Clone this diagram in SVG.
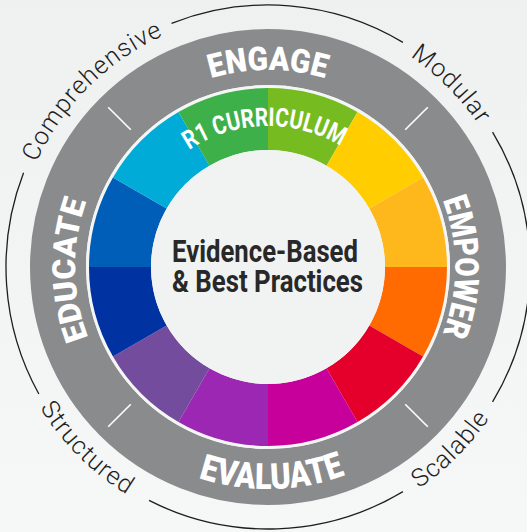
<svg xmlns="http://www.w3.org/2000/svg" width="527" height="532" viewBox="0 0 527 532">
  <defs>
    <linearGradient id="bg" x1="0" y1="0" x2="0" y2="1">
      <stop offset="0" stop-color="#eff0f0"/>
      <stop offset="1" stop-color="#f6f7f7"/>
    </linearGradient>
    <path id="pEngage" d="M 71 267 A 197 197 0 0 1 465 267"/>
    <path id="pEmpower" d="M 268 80 A 187 187 0 0 1 268 454"/>
    <path id="pEvaluate" d="M 46 267 A 222 222 0 0 0 490 267"/>
    <path id="pEducate" d="M 268 460 A 193 193 0 0 1 268 74"/>
    <path id="pR1" d="M 127 267 A 141 141 0 0 1 409 267"/>
    <path id="pTopOuter" d="M 14 267 A 254 254 0 0 1 522 267"/>
    <path id="pBotOuter" d="M 0 267 A 268 268 0 0 0 536 267"/>
  </defs>
  <style>
    .band { font-family: Roboto, "Liberation Sans", sans-serif; font-weight: 900; fill: #ffffff; }
    .outer { font-family: Roboto, "Liberation Sans", sans-serif; font-weight: 300; font-size: 25px; fill: #1e1e1e; letter-spacing: 1px; }
    .center { font-family: Roboto, "Liberation Sans", sans-serif; font-weight: 700; font-size: 31px; fill: #282828; text-anchor: middle; }
    .arc { fill: none; stroke: #1e1e1e; stroke-width: 1.3; }
    .tick { stroke: #ffffff; stroke-width: 1.6; }
  </style>

  <rect id="background" x="0" y="0" width="527" height="532" fill="url(#bg)"/>

  <g id="outer-arcs">
    <path class="arc" d="M 402.94 42.42 A 262 262 0 0 0 171.55 23.40"/>
    <path class="arc" d="M 23.57 172.68 A 262 262 0 0 0 38.85 394.02"/>
    <path class="arc" d="M 149.05 500.44 A 262 262 0 0 0 402.94 491.58"/>
    <path class="arc" d="M 492.58 401.94 A 262 262 0 0 0 492.58 132.06"/>
  </g>

  <g id="outer-labels">
    <text class="outer" text-anchor="middle"><textPath href="#pTopOuter" startOffset="199.5">Comprehensive</textPath></text>
    <text class="outer" text-anchor="middle"><textPath href="#pTopOuter" startOffset="598.5">Modular</textPath></text>
    <text class="outer" text-anchor="middle"><textPath href="#pBotOuter" startOffset="210.5">Structured</textPath></text>
    <text class="outer" text-anchor="middle"><textPath href="#pBotOuter" startOffset="631.5">Scalable</textPath></text>
  </g>

  <g id="gray-band">
    <circle cx="268" cy="267" r="210" fill="none" stroke="#8a8b8d" stroke-width="56"/>
    <circle cx="268" cy="267" r="182" fill="#f4f5f5"/>
    <line class="tick" x1="405.2" y1="129.8" x2="427.8" y2="107.2"/>
    <line class="tick" x1="130.8" y1="129.8" x2="108.2" y2="107.2"/>
    <line class="tick" x1="130.8" y1="404.2" x2="108.2" y2="426.8"/>
    <line class="tick" x1="405.2" y1="404.2" x2="427.8" y2="426.8"/>
  </g>

  <g id="band-labels">
    <text id="engage" class="band" font-size="33" text-anchor="middle"><textPath href="#pEngage" startOffset="50%" textLength="116" lengthAdjust="spacingAndGlyphs">ENGAGE</textPath></text>
    <text id="empower" class="band" font-size="34" text-anchor="middle"><textPath href="#pEmpower" startOffset="50%" textLength="137" lengthAdjust="spacingAndGlyphs">EMPOWER</textPath></text>
    <text id="evaluate" class="band" font-size="36" text-anchor="middle"><textPath href="#pEvaluate" startOffset="352.7" textLength="150" lengthAdjust="spacingAndGlyphs">EVALUATE</textPath></text>
    <text id="educate" class="band" font-size="32" text-anchor="middle"><textPath href="#pEducate" startOffset="300" textLength="139" lengthAdjust="spacingAndGlyphs">EDUCATE</textPath></text>
  </g>

  <g id="color-ring">
    <path fill="#76bc21" d="M 357.5 111.981 A 179 179 0 0 0 268 88 L 268 150 A 117 117 0 0 1 326.5 165.675 Z"/>
    <path fill="#ffcd00" d="M 423.019 177.5 A 179 179 0 0 0 357.5 111.981 L 326.5 165.675 A 117 117 0 0 1 369.325 208.5 Z"/>
    <path fill="#ffb81c" d="M 447 267 A 179 179 0 0 0 423.019 177.5 L 369.325 208.5 A 117 117 0 0 1 385 267 Z"/>
    <path fill="#ff6b00" d="M 423.019 356.5 A 179 179 0 0 0 447 267 L 385 267 A 117 117 0 0 1 369.325 325.5 Z"/>
    <path fill="#e4002b" d="M 357.5 422.019 A 179 179 0 0 0 423.019 356.5 L 369.325 325.5 A 117 117 0 0 1 326.5 368.325 Z"/>
    <path fill="#c8009b" d="M 268 446 A 179 179 0 0 0 357.5 422.019 L 326.5 368.325 A 117 117 0 0 1 268 384 Z"/>
    <path fill="#9b27b3" d="M 178.5 422.019 A 179 179 0 0 0 268 446 L 268 384 A 117 117 0 0 1 209.5 368.325 Z"/>
    <path fill="#744c9e" d="M 112.981 356.5 A 179 179 0 0 0 178.5 422.019 L 209.5 368.325 A 117 117 0 0 1 166.675 325.5 Z"/>
    <path fill="#0033a1" d="M 89 267 A 179 179 0 0 0 112.981 356.5 L 166.675 325.5 A 117 117 0 0 1 151 267 Z"/>
    <path fill="#005eb8" d="M 112.981 177.5 A 179 179 0 0 0 89 267 L 151 267 A 117 117 0 0 1 166.675 208.5 Z"/>
    <path fill="#00acd7" d="M 178.5 111.981 A 179 179 0 0 0 112.981 177.5 L 166.675 208.5 A 117 117 0 0 1 209.5 165.675 Z"/>
    <path fill="#3eb049" d="M 268 88 A 179 179 0 0 0 178.5 111.981 L 209.5 165.675 A 117 117 0 0 1 268 150 Z"/>
    <circle cx="268" cy="267" r="117" fill="#f1f2f2"/>
  </g>

  <g id="ring-label">
    <text class="band" font-size="26" text-anchor="middle" style="font-weight:700"><textPath href="#pR1" startOffset="217.7" textLength="160" lengthAdjust="spacingAndGlyphs">R1 CURRICULUM</textPath></text>
  </g>

  <g id="center">
    <text class="center" x="265" y="262" textLength="186" lengthAdjust="spacingAndGlyphs">Evidence-Based</text>
    <text class="center" x="267.5" y="292" textLength="191" lengthAdjust="spacingAndGlyphs">&amp; Best Practices</text>
  </g>
</svg>
